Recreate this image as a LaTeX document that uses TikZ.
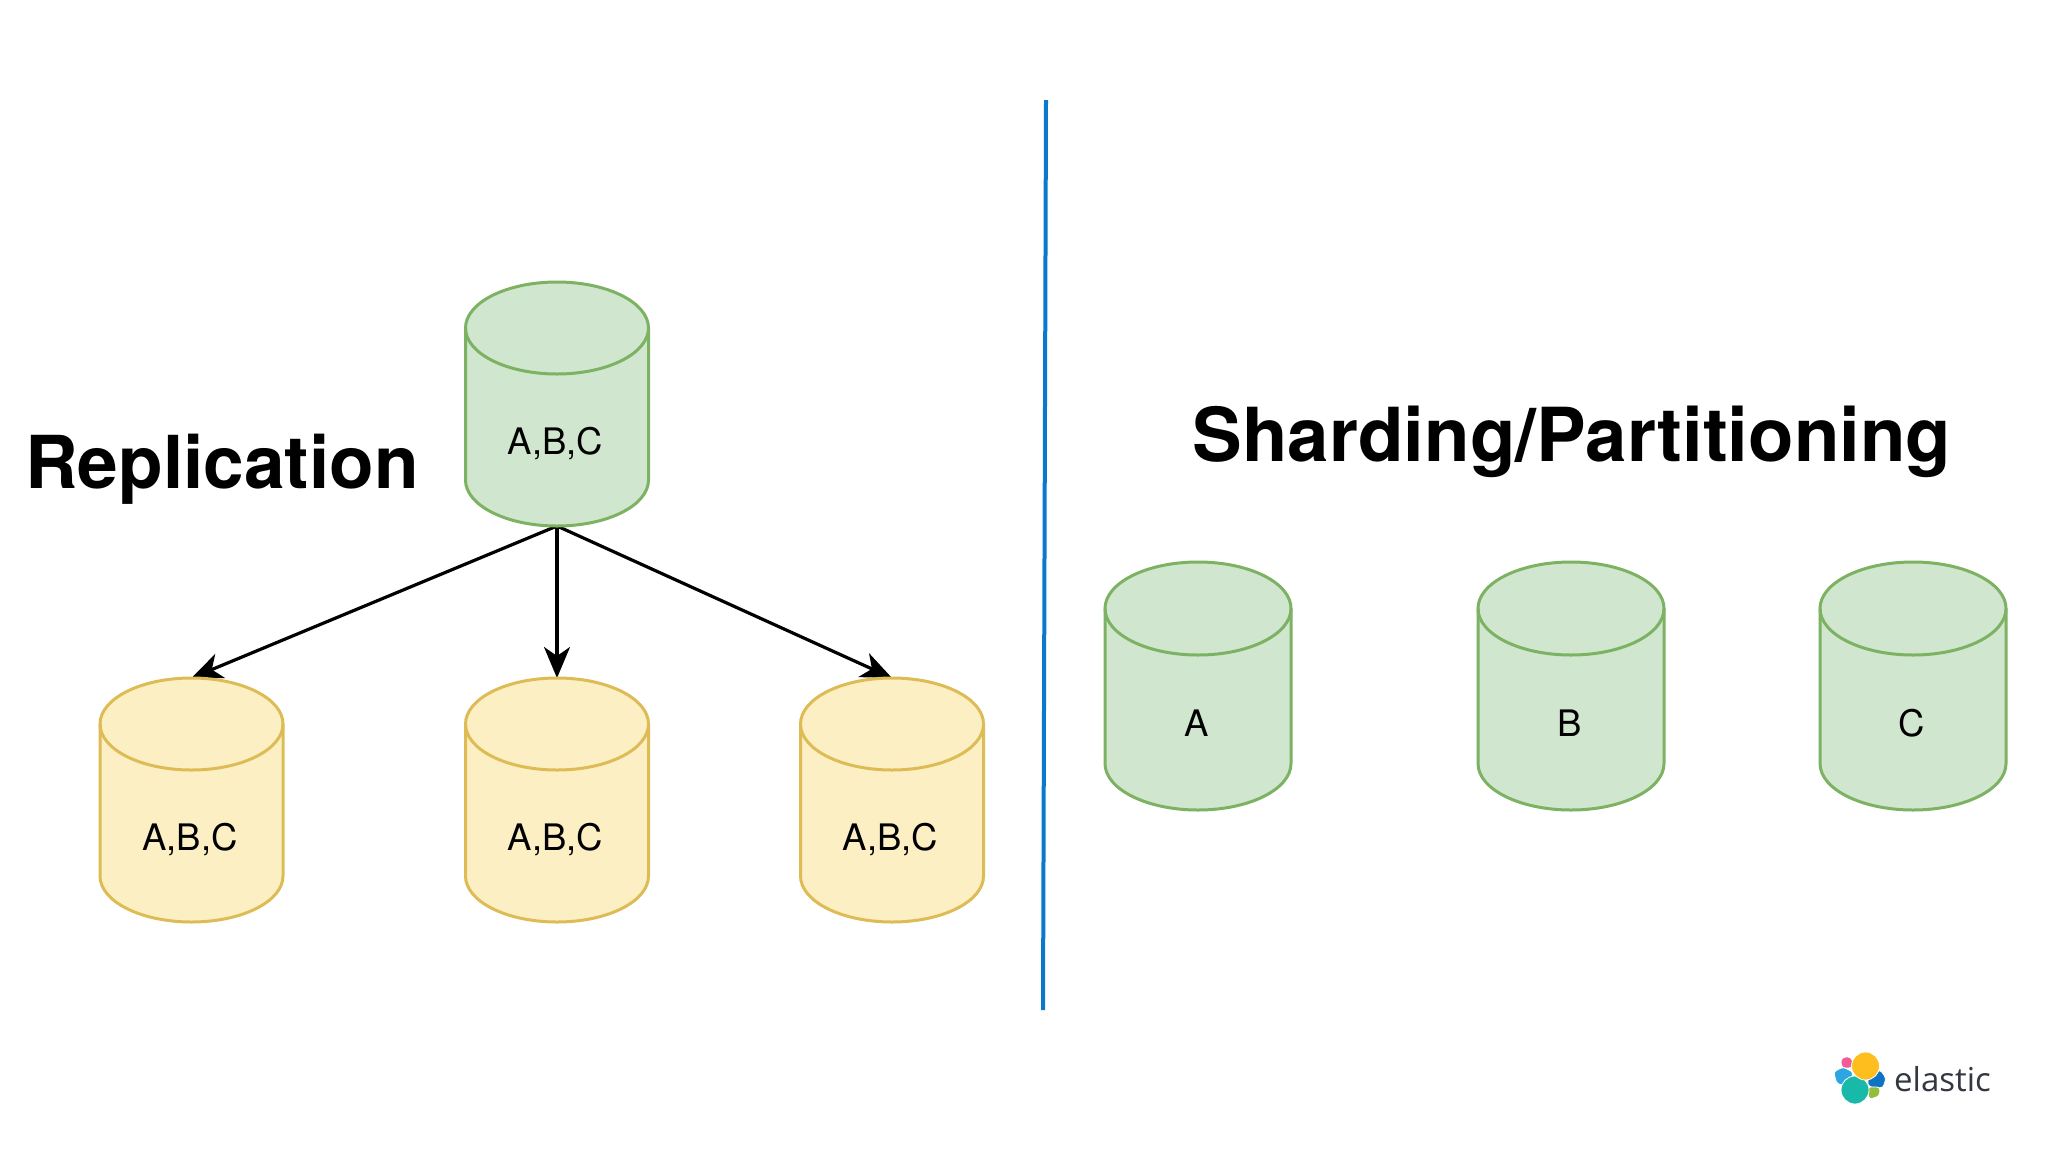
\documentclass[tikz,border=0pt]{standalone}
\usepackage{fontspec}
\setmainfont{TeX Gyre Heros}
\newfontfamily\logofont{Open Sans}
\usetikzlibrary{arrows.meta,backgrounds}
\definecolor{grfill}{HTML}{D0E6CF}
\definecolor{grline}{HTML}{7DB263}
\definecolor{yefill}{HTML}{FDEFC4}
\definecolor{yeline}{HTML}{DDBC55}
\definecolor{divider}{HTML}{0A78CC}
\newcommand{\dbcyl}[8]{% name, cx, top y, rx, ry, height, colour prefix, label
  \draw[line width=3pt,draw=#7line,fill=#7fill]
    (#2-#4,#3+#5) arc[start angle=180,end angle=360,x radius=#4,y radius=#5]
    -- (#2+#4,#3+#6-#5) arc[start angle=0,end angle=180,x radius=#4,y radius=#5] -- cycle;
  \draw[line width=3pt,draw=#7line] (#2-#4,#3+#5) arc[start angle=180,end angle=0,x radius=#4,y radius=#5];
  \node[cylbox,minimum width=2*#4 pt,minimum height=#6 pt] (#1) at (#2,#3+#6/2) {};
  \node[cyltext] (#1t) at (#2-1.5,#3+#6/2+50) {#8};
}
\tikzset{
  cylbox/.style={inner sep=0pt,outer sep=0pt,draw=none,fill=none},
  cyltext/.style={inner sep=0pt,anchor=base,font=\fontsize{36.5pt}{40pt}\selectfont,text=black},
  titletext/.style={inner sep=0pt,font=\bfseries,text=black},
  link/.style={line width=3.2pt,draw=black,-{Stealth[length=31pt,width=26pt,inset=9pt]}},
  blob/.style={draw=white,line width=0.8pt,rounded corners=3pt},
}
\begin{document}
\begin{tikzpicture}[x=1pt,y=-1pt]
\useasboundingbox (0,0) rectangle (2048,1152);
\dbcyl{m}{557}{282}{91.5}{46}{244}{gr}{A,B,C}
\dbcyl{r1}{191.5}{678}{91.5}{46}{244}{ye}{A,B,C}
\dbcyl{r2}{557}{678}{91.5}{46}{244}{ye}{A,B,C}
\dbcyl{r3}{892}{678}{91.5}{46}{244}{ye}{A,B,C}
\dbcyl{sa}{1198}{562}{93}{46.5}{248}{gr}{A}
\dbcyl{sb}{1571}{562}{93}{46.5}{248}{gr}{B}
\dbcyl{sc}{1913}{562}{93}{46.5}{248}{gr}{C}
\begin{pgfonlayer}{background}
\fill[white] (0,0) rectangle (2048,1152);
\draw[link] (m.south) -- (r1.north);
\draw[link] (m.south) -- (r2.north);
\draw[link] (m.south) -- (r3.north);
\end{pgfonlayer}
\coordinate (dtop) at (1046,100);
\coordinate (dbot) at (1043,1010);
\draw[line width=4pt,draw=divider] (dtop) -- (dbot);
\node[titletext,font=\fontsize{73pt}{80pt}\selectfont\bfseries] (t1) at (222,469.5) {Replication};
\node[titletext,font=\fontsize{74.5pt}{80pt}\selectfont\bfseries] (t2) at (1572,442) {Sharding/Partitioning};
% logo
\fill[fill={rgb,255:red,241;green,91;blue,151},blob] (1840.5,1059) -- (1848,1056) -- (1853,1060) -- (1852,1068) -- (1842,1068) -- cycle;
\fill[fill={rgb,255:red,45;green,165;blue,225},blob] (1833.5,1072) -- (1843,1067) -- (1853,1072) -- (1850,1086) -- (1837,1084) -- cycle;
\fill[fill={rgb,255:red,15;green,115;blue,195},blob] (1867,1080) -- (1880,1069.5) -- (1886,1078) -- (1883,1088) -- (1869,1087) -- cycle;
\fill[fill={rgb,255:red,145;green,190;blue,60},blob] (1867.5,1087) -- (1880,1087) -- (1879.5,1096) -- (1869,1099.5) -- cycle;
\fill[fill={rgb,255:red,25;green,185;blue,170},blob] (1855,1090) circle (14);
\fill[fill={rgb,255:red,253;green,190;blue,30},blob] (1865.5,1066) circle (14);
\node[inner sep=0pt,anchor=west,text={rgb,255:red,50;green,55;blue,65},font=\fontsize{33pt}{36pt}\selectfont\logofont] (logo) at (1894,1079) {elastic};
\end{tikzpicture}
\end{document}
